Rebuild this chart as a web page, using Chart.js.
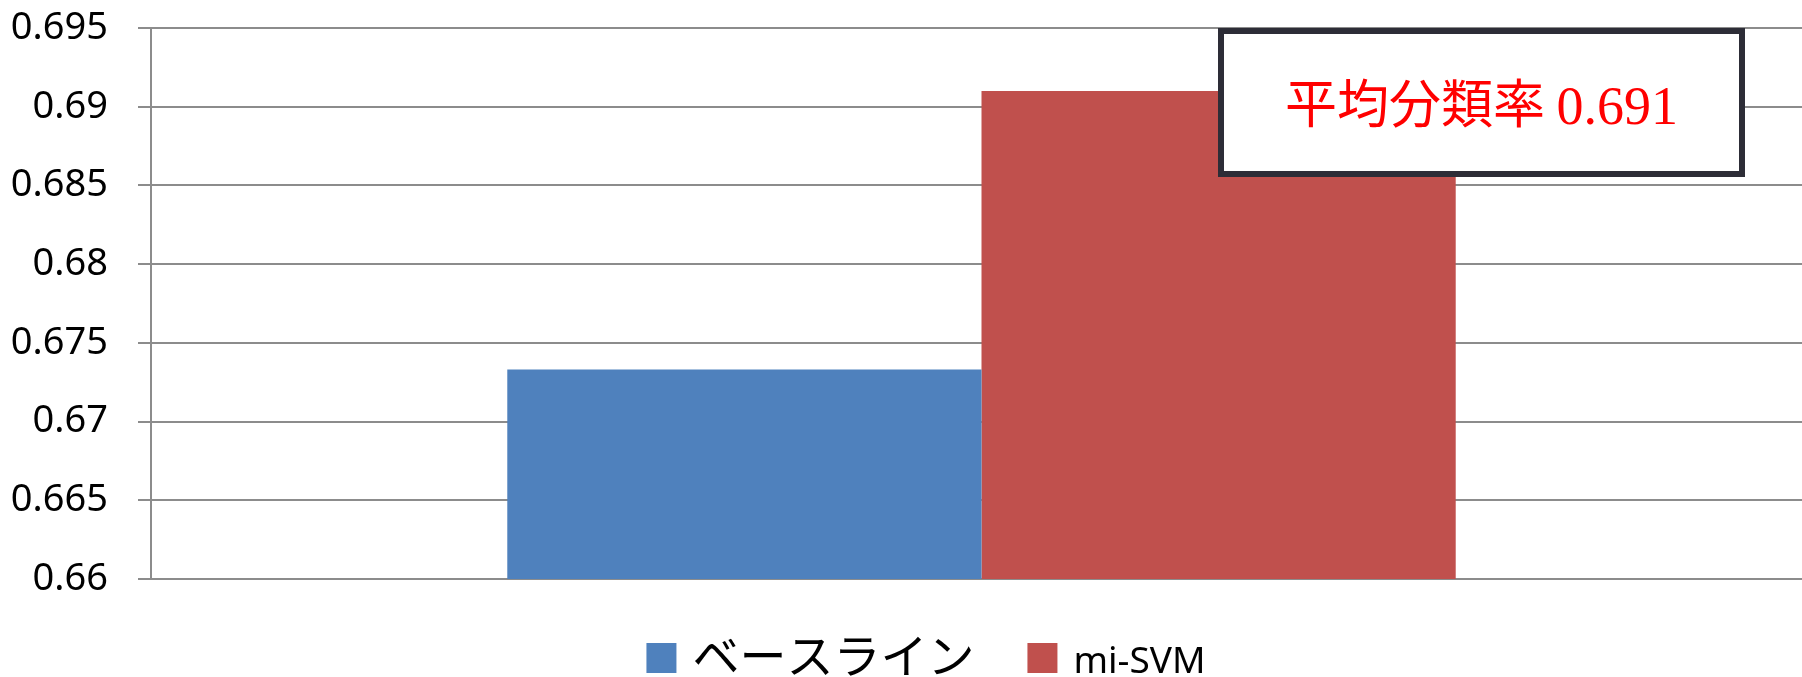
<!DOCTYPE html>
<html>
<head>
<meta charset="utf-8">
<script src="https://cdn.jsdelivr.net/npm/chart.js@4.4.1/dist/chart.umd.min.js"></script>
<style>
  html, body { margin: 0; padding: 0; background: #fff; overflow: hidden; }
  #wrap { width: 1812px; height: 677px; }
</style>
</head>
<body>
<div id="wrap"><canvas id="rate-chart"></canvas></div>
<script>
// classification rate per method
var categories = [''];
var seriesNames = ['ベースライン', 'mi-SVM'];
var baseline = [0.6733];
var misvm = [0.691];
var yTicks = [0.66, 0.665, 0.67, 0.675, 0.68, 0.685, 0.69, 0.695];

var colors = ['#4f81bd', '#c0504d'];
var cjkFont = '"Noto Sans CJK JP", "Noto Sans CJK SC", sans-serif';

// legend under the plot, drawn by hand so each entry keeps its own font
var legendPlugin = {
    id: 'bottomLegend',
    afterDraw(chart) {
        var ctx = chart.ctx;
        var fonts = ['47px ' + cjkFont, '37px "Noto Sans", sans-serif'];
        var box = 30, gap = 16, itemGap = 53;
        var widths = chart.data.datasets.map(function(ds, i) {
            ctx.font = fonts[i];
            return ctx.measureText(ds.label).width;
        });
        var total = 0;
        widths.forEach(function(w, i) { total += box + gap + w + (i ? itemGap : 0); });
        var x = 926 - total / 2;
        ctx.save();
        chart.data.datasets.forEach(function(ds, i) {
            ctx.fillStyle = ds.backgroundColor;
            ctx.fillRect(x, 643, box, box);
            x += box + gap;
            ctx.font = fonts[i];
            ctx.fillStyle = '#000';
            ctx.textAlign = 'left';
            if (i === 0) {
                ctx.textBaseline = 'middle';
                ctx.fillText(ds.label, x, 655);
            } else {
                ctx.textBaseline = 'alphabetic';
                ctx.fillText(ds.label, x, 673);
            }
            x += widths[i] + itemGap;
        });
        ctx.restore();
    }
};

// boxed note with the mi-SVM average rate
var notePlugin = {
    id: 'rateNote',
    afterDraw(chart) {
        var ctx = chart.ctx;
        var left = 1221, top = 31, w = 521, h = 143;
        ctx.save();
        ctx.fillStyle = '#fff';
        ctx.fillRect(left, top, w, h);
        ctx.lineWidth = 6;
        ctx.strokeStyle = '#2d2d37';
        ctx.strokeRect(left, top, w, h);

        var prefix = '平均分類率 ';
        var value = chart.data.datasets[1].data[0].toFixed(3);
        ctx.fillStyle = '#ff0000';
        ctx.textBaseline = 'alphabetic';
        ctx.textAlign = 'left';
        ctx.font = '52px ' + cjkFont;
        var pw = ctx.measureText(prefix).width;
        ctx.font = '54px "Liberation Serif", serif';
        var vw = ctx.measureText(value).width;
        var x = left + w / 2 - (pw + vw) / 2;
        ctx.font = '52px ' + cjkFont;
        ctx.fillText(prefix, x, 123);
        ctx.font = '54px "Liberation Serif", serif';
        ctx.fillText(value, x + pw, 124);
        ctx.restore();
    }
};

new Chart(document.getElementById('rate-chart'), {
    type: 'bar',
    data: {
        labels: categories,
        datasets: [
            { label: seriesNames[0], data: baseline, backgroundColor: colors[0] },
            { label: seriesNames[1], data: misvm, backgroundColor: colors[1] }
        ]
    },
    options: {
        responsive: true,
        maintainAspectRatio: false,
        animation: false,
        layout: { padding: { top: 28, right: 0, bottom: 98, left: 0 } },
        datasets: {
            bar: { categoryPercentage: 0.571, barPercentage: 1.0 }
        },
        plugins: {
            legend: { display: false },
            tooltip: { enabled: false }
        },
        scales: {
            x: { display: false },
            y: {
                min: yTicks[0],
                max: yTicks[yTicks.length - 1],
                afterBuildTicks(scale) {
                    scale.ticks = yTicks.map(function(v) { return { value: v }; });
                },
                afterFit(scale) {
                    scale.width = 151;
                    scale.paddingTop = 0;
                    scale.paddingBottom = 0;
                },
                grid: { color: '#8c8c8c', lineWidth: 2, tickLength: 13 },
                border: { color: '#8c8c8c', width: 2 },
                ticks: {
                    padding: 30,
                    color: '#000',
                    font: { family: '"Noto Sans", sans-serif', size: 38 },
                    callback: function(v) { return String(+v.toFixed(3)); }
                }
            }
        }
    },
    plugins: [legendPlugin, notePlugin]
});
</script>
</body>
</html>
